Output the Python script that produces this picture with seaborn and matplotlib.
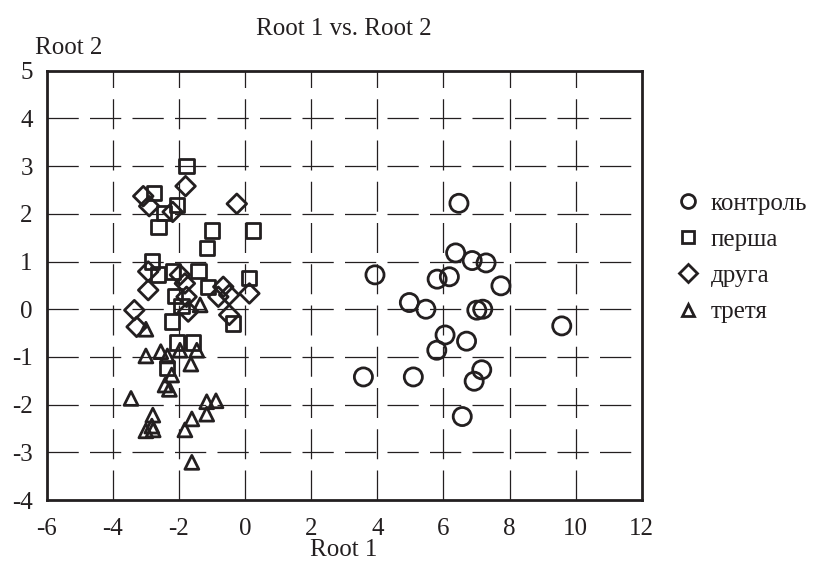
import matplotlib
matplotlib.use("Agg")
import matplotlib.pyplot as plt
import seaborn as sns
import pandas as pd
from matplotlib.lines import Line2D

# data (Root 1, Root 2)
kontrol_x = [6.47, 6.37, 6.87, 7.29, 6.18, 5.81, 3.93, 7.74, 4.97, 5.47, 7.01,
             7.19, 9.58, 6.05, 6.70, 5.80, 3.58, 5.09, 7.16, 6.93, 6.57]
kontrol_y = [2.22, 1.18, 1.02, 0.97, 0.68, 0.63, 0.72, 0.49, 0.14, 0.00, -0.02,
             0.00, -0.35, -0.54, -0.67, -0.86, -1.42, -1.42, -1.27, -1.51, -2.25]

persha_x = [-1.77, -2.75, -2.05, -2.45, -2.62, -0.99, 0.25, -1.16, -2.82, -2.64, -2.19,
            -1.41, 0.13, -1.11, -2.12, -1.92, -2.22, -0.36, -2.05, -1.57, -2.35]
persha_y = [3.00, 2.44, 2.18, 2.02, 1.72, 1.65, 1.65, 1.28, 1.00, 0.73, 0.79,
            0.80, 0.65, 0.47, 0.28, 0.07, -0.26, -0.30, -0.70, -0.70, -1.23]

druha_x = [-1.80, -3.08, -2.90, -2.19, -0.25, -2.93, -2.93, -1.97, -1.82,
           -1.77, -1.72, -0.66, -0.81, -0.48, 0.13, -0.48, -3.35, -3.28]
druha_y = [2.58, 2.37, 2.16, 2.04, 2.21, 0.79, 0.40, 0.72, 0.54,
           0.26, -0.05, 0.47, 0.26, 0.30, 0.33, -0.12, -0.02, -0.37]

tretia_x = [-1.36, -3.00, -1.97, -1.46, -3.00, -2.55, -2.35, -1.64, -2.22, -2.42, -2.29,
            -3.45, -1.16, -0.88, -1.16, -2.79, -1.61, -2.82, -2.78, -3.00, -1.82, -1.61]
tretia_y = [0.09, -0.42, -0.86, -0.86, -0.98, -0.89, -0.98, -1.15, -1.38, -1.59, -1.68,
            -1.87, -1.94, -1.92, -2.20, -2.22, -2.30, -2.45, -2.53, -2.55, -2.53, -3.21]

groups = ["контроль", "перша", "друга", "третя"]

df = pd.concat([
    pd.DataFrame({"root1": kontrol_x, "root2": kontrol_y, "group": "контроль"}),
    pd.DataFrame({"root1": persha_x, "root2": persha_y, "group": "перша"}),
    pd.DataFrame({"root1": druha_x, "root2": druha_y, "group": "друга"}),
    pd.DataFrame({"root1": tretia_x, "root2": tretia_y, "group": "третя"}),
])

ink = "#231f20"
markers = {"контроль": "o", "перша": "s", "друга": "D", "третя": "^"}
sizes = {"контроль": 170, "перша": 105, "друга": 100, "третя": 100}

sns.set_style("white")
plt.rcParams["font.family"] = ["Liberation Serif", "DejaVu Serif"]
plt.rcParams["axes.unicode_minus"] = False

fig = plt.figure(figsize=(8.27, 5.62), dpi=100)
ax = fig.add_axes([0.0565, 0.1103, 0.7195, 0.7639])

for g in groups:
    sns.scatterplot(data=df[df["group"] == g], x="root1", y="root2", ax=ax,
                    marker=markers[g], s=sizes[g], facecolor="none",
                    edgecolor=ink, linewidth=2.0, zorder=3)

ax.set_xlim(-6, 12)
ax.set_ylim(-4, 5)
ax.set_xticks(range(-6, 13, 2))
ax.set_yticks(range(-4, 6))
ax.tick_params(labelsize=18, length=0, colors=ink)
ax.tick_params(axis="x", pad=13)
ax.tick_params(axis="y", pad=10)

# dashed grid
for xv in range(-4, 12, 2):
    ax.axvline(xv, color=ink, lw=0.9, ls=(0, (24, 9)), zorder=1)
for yv in range(-3, 5):
    ax.axhline(yv, color=ink, lw=0.9, ls=(0, (25, 9)), zorder=1)

for sp in ax.spines.values():
    sp.set_color(ink)
    sp.set_linewidth(2)

ax.set_xlabel("")
ax.set_ylabel("")
fig.text(0.416, 0.968, "Root 1 vs. Root 2", ha="center", va="top", fontsize=18, color=ink)
fig.text(0.083, 0.935, "Root 2", ha="center", va="top", fontsize=18, color=ink)
fig.text(0.416, 0.002, "Root 1", ha="center", va="bottom", fontsize=18, color=ink)

handles = [Line2D([], [], ls="none", marker=markers[g], markersize=10 if g == "контроль" else 9,
                  markerfacecolor="none", markeredgecolor=ink, markeredgewidth=2.0)
           for g in groups]
fig.legend(handles, groups, loc="upper left", bbox_to_anchor=(0.793, 0.698),
           frameon=False, fontsize=18, handlelength=0.8, handletextpad=0.5,
           labelspacing=0.55, labelcolor=ink)

fig.savefig("out.png", dpi=100)
